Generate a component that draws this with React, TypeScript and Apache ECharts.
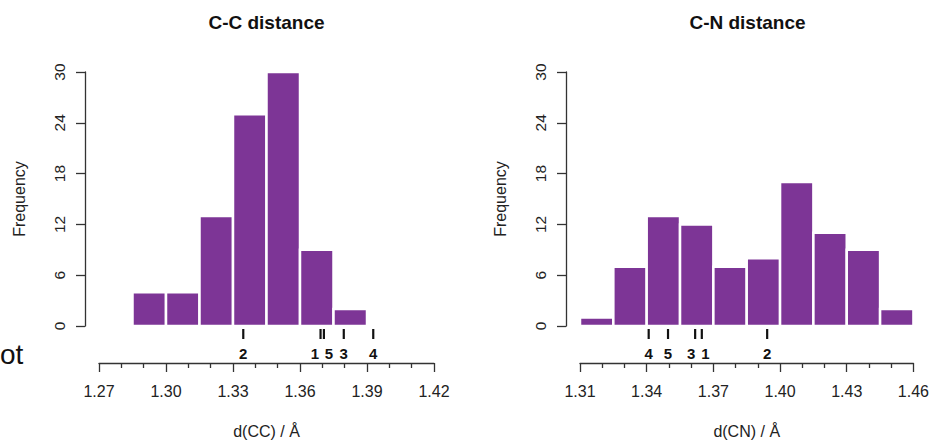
import React, { useEffect, useRef } from "react";
import * as echarts from "echarts";

// ---- data ----
const ccBreaks = [1.285, 1.3, 1.315, 1.33, 1.345, 1.36, 1.375, 1.39];
const ccCounts = [4, 4, 13, 25, 30, 9, 2];
const cnBreaks = [1.31, 1.325, 1.34, 1.355, 1.37, 1.385, 1.4, 1.415, 1.43, 1.445, 1.46];
const cnCounts = [1, 7, 13, 12, 7, 8, 17, 11, 9, 2];

const ccMarkerLabels = ["1", "2", "3", "4", "5"];
const ccMarkerValues = [1.3692, 1.3346, 1.3796, 1.3928, 1.3707];
const ccMarkerLabelAt = [1.3667, 1.3346, 1.3796, 1.3928, 1.3729];

const cnMarkerLabels = ["1", "2", "3", "4", "5"];
const cnMarkerValues = [1.3648, 1.3942, 1.3618, 1.3409, 1.3496];
const cnMarkerLabelAt = [1.3664, 1.3942, 1.3600, 1.3409, 1.3496];

const titles = ["C-C distance", "C-N distance"];
const xNames = ["d(CC) / Å", "d(CN) / Å"];
const yName = "Frequency";
const xMins = [1.27, 1.31];
const xMaxs = [1.42, 1.46];
const xInterval = 0.03;
const yMin = 0;
const yMax = 30;
const yInterval = 6;
const leftFragment = "ot";

// ---- styles ----
const PURPLE = "#7d3596";
const INK = "#222";
const FONT = "'Liberation Sans', Arial, Helvetica, sans-serif";
const GRID_LEFTS = [99, 580];
const GRID_TOP = 72;
const GRID_W = 335;
const GRID_H = 258;

function histData(breaks: number[], counts: number[]) {
  return counts.map((c, i) => [breaks[i], breaks[i + 1], c]);
}

function markerData(values: number[], at: number[]) {
  return values.map((v, i) => [v, at[i]]);
}

export default function App() {
  const ref = useRef<HTMLDivElement>(null);

  useEffect(() => {
    if (!ref.current) return;
    const chart = echarts.init(ref.current, undefined, { renderer: "svg" });

    const histRender = (params: any, api: any) => {
      const x0 = api.value(0);
      const x1 = api.value(1);
      const h = api.value(2);
      const p0 = api.coord([x0, 0]);
      const p1 = api.coord([x1, h]);
      return {
        type: "rect",
        shape: { x: p0[0], y: p1[1], width: p1[0] - p0[0], height: p0[1] - p1[1] },
        style: { fill: PURPLE, stroke: "#ffffff", lineWidth: 2.5 },
      };
    };

    const markerRender = (labels: string[]) => (params: any, api: any) => {
      const v = api.value(0);
      const at = api.value(1);
      const p = api.coord([v, 0]);
      const q = api.coord([at, 0]);
      return {
        type: "group",
        children: [
          {
            type: "line",
            shape: { x1: p[0], y1: p[1] + 3, x2: p[0], y2: p[1] + 13 },
            style: { stroke: "#111", lineWidth: 2.2 },
          },
          {
            type: "text",
            x: q[0],
            y: p[1] + 27,
            style: {
              text: labels[params.dataIndex],
              fontSize: 15,
              fontWeight: "bold",
              fontFamily: FONT,
              fill: "#111",
              align: "center",
              verticalAlign: "middle",
            },
          },
        ],
      };
    };

    const grids = GRID_LEFTS.map((l) => ({
      left: l,
      top: GRID_TOP,
      width: GRID_W,
      height: GRID_H,
      containLabel: false,
    }));

    const xAxes = [0, 1].map((i) => ({
      type: "value",
      gridIndex: i,
      min: xMins[i],
      max: xMaxs[i],
      interval: xInterval,
      position: "bottom",
      offset: 37,
      name: xNames[i],
      nameLocation: "middle",
      nameGap: 60,
      nameTextStyle: { fontSize: 16, color: INK, fontFamily: FONT },
      axisLine: { show: true, onZero: false, lineStyle: { color: "#333", width: 1.3 } },
      axisTick: { show: true, inside: false, length: 9, lineStyle: { color: "#333", width: 1.3 } },
      minorTick: { show: true, splitNumber: 3, length: 5, lineStyle: { color: "#333", width: 1.3 } },
      axisLabel: {
        show: true,
        margin: 20,
        fontSize: 16,
        color: INK,
        fontFamily: FONT,
        formatter: (v: number) => v.toFixed(2),
      },
      splitLine: { show: false },
      minorSplitLine: { show: false },
    }));

    const yAxes = [0, 1].map((i) => ({
      type: "value",
      gridIndex: i,
      min: yMin,
      max: yMax,
      interval: yInterval,
      position: "left",
      offset: 14,
      name: yName,
      nameLocation: "middle",
      nameGap: 58,
      nameTextStyle: { fontSize: 16, color: INK, fontFamily: FONT },
      axisLine: { show: true, lineStyle: { color: "#333", width: 1.3 } },
      axisTick: { show: true, inside: false, length: 9, lineStyle: { color: "#333", width: 1.3 } },
      axisLabel: {
        show: true,
        rotate: 90,
        margin: 18,
        fontSize: 15.5,
        color: INK,
        fontFamily: FONT,
      },
      splitLine: { show: false },
    }));

    const option: any = {
      animation: false,
      backgroundColor: "#ffffff",
      textStyle: { fontFamily: FONT },
      title: [0, 1].map((i) => ({
        text: titles[i],
        left: GRID_LEFTS[i] + GRID_W / 2,
        top: 13,
        textAlign: "center",
        padding: 0,
        textStyle: { fontSize: 19, fontWeight: "bold", color: "#111", fontFamily: FONT },
      })),
      grid: grids,
      xAxis: xAxes,
      yAxis: yAxes,
      graphic: [
        {
          type: "text",
          x: 0,
          y: 354,
          style: {
            text: leftFragment,
            fontSize: 28,
            fontFamily: FONT,
            fill: "#111",
            verticalAlign: "middle",
          },
        },
      ],
      series: [
        {
          type: "custom",
          xAxisIndex: 0,
          yAxisIndex: 0,
          data: histData(ccBreaks, ccCounts),
          encode: { x: [0, 1], y: 2 },
          renderItem: histRender,
          clip: false,
        },
        {
          type: "custom",
          xAxisIndex: 1,
          yAxisIndex: 1,
          data: histData(cnBreaks, cnCounts),
          encode: { x: [0, 1], y: 2 },
          renderItem: histRender,
          clip: false,
        },
        {
          type: "custom",
          xAxisIndex: 0,
          yAxisIndex: 0,
          data: markerData(ccMarkerValues, ccMarkerLabelAt),
          encode: { x: [0, 1] },
          renderItem: markerRender(ccMarkerLabels),
          clip: false,
        },
        {
          type: "custom",
          xAxisIndex: 1,
          yAxisIndex: 1,
          data: markerData(cnMarkerValues, cnMarkerLabelAt),
          encode: { x: [0, 1] },
          renderItem: markerRender(cnMarkerLabels),
          clip: false,
        },
      ],
    };

    chart.setOption(option);
    return () => {
      chart.dispose();
    };
  }, []);

  return (
    <div
      ref={ref}
      style={{ position: "fixed", left: 0, top: 0, width: 932, height: 444, background: "#fff" }}
    />
  );
}
